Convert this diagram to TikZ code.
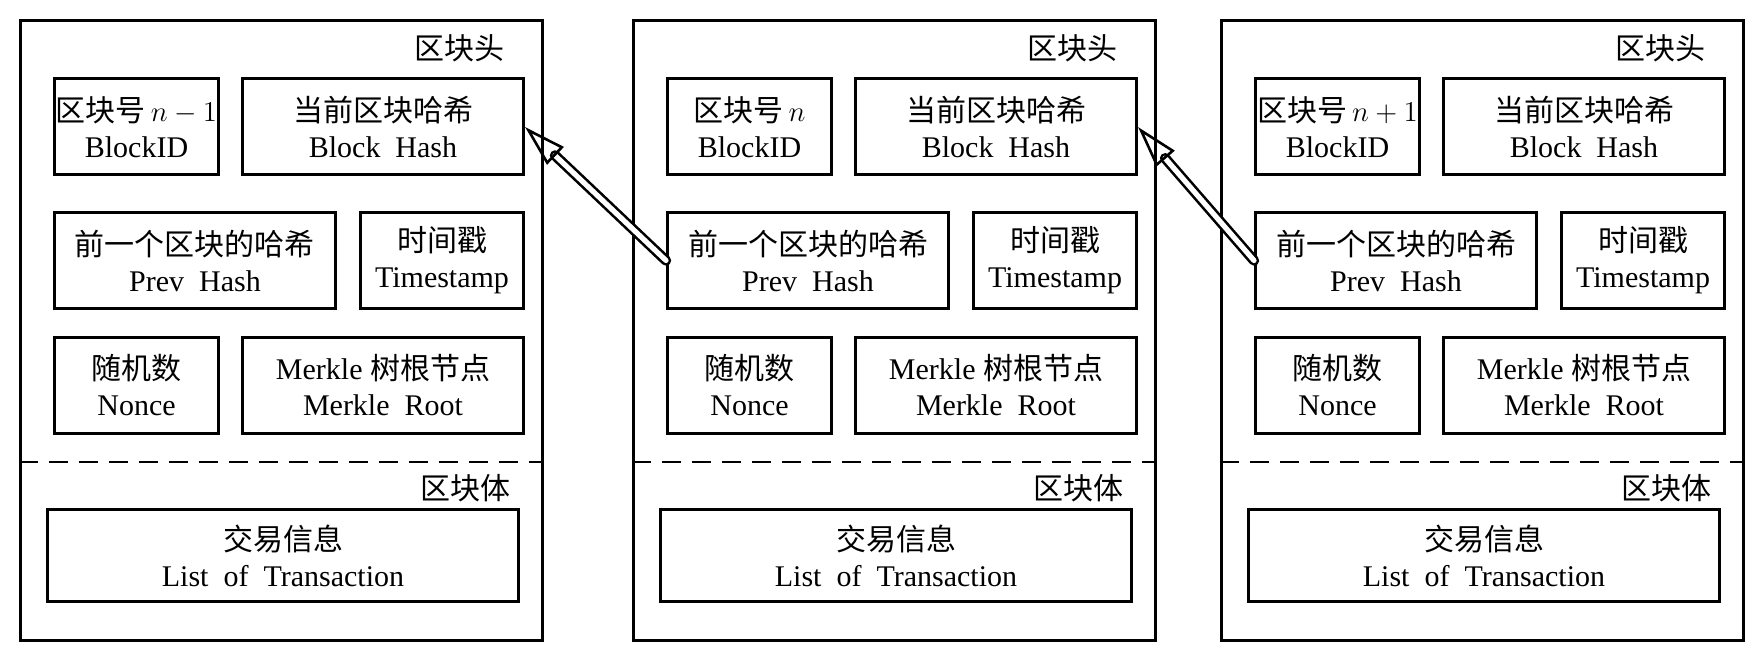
\documentclass[tikz,border=0pt]{standalone}
\usepackage{fontspec}
\setmainfont{Liberation Serif}
\newfontfamily\cjk{Noto Sans CJK SC}
\usetikzlibrary{arrows.meta}

\tikzset{
  blockbox/.style={draw, line width=1.6pt, minimum width=261pt, minimum height=310pt, inner sep=0pt},
  cell/.style={draw, line width=1.5pt, minimum height=48pt, inner sep=0pt, align=center},
  narrow/.style={cell, minimum width=82pt},
  wide/.style={cell, minimum width=140.5pt},
  txbox/.style={cell, minimum width=235.5pt, minimum height=46pt},
  tag/.style={anchor=east, inner sep=0pt},
  sep/.style={line width=1.25pt, dash pattern=on 9.5pt off 5.5pt},
  chain/.style={double, double distance=2.6pt, line width=1.3pt, line cap=round, -{Triangle[open, length=21pt, width=12pt]}}
}
\newcommand{\gap}{\hspace{0.5em}}

\begin{document}
\begin{tikzpicture}[x=0.5pt, y=-0.5pt, font=\fontsize{15pt}{18pt}\selectfont]
  \useasboundingbox (0,0) rectangle (1758,663);

  % Blocks
  \foreach \b/\bx/\num in {1/19/{n-1}, 2/632/n, 3/1220/{n+1}} {
    \node (blk\b) [blockbox] at (\bx+262.5,330.5) {};
    \node (head\b) [tag] at (\bx+486,48) {\cjk 区块头};
    \node (id\b) [narrow] at (\bx+117.5,127) {{\cjk 区块号}\,$\num$\\BlockID};
    \node (hash\b) [wide] at (\bx+364,127) {{\cjk 当前区块哈希}\\Block\gap Hash};
    \node (prev\b) [wide] at (\bx+176,260.5) {{\cjk 前一个区块的哈希}\\Prev\gap Hash};
    \node (time\b) [narrow, minimum width=81.5pt] at (\bx+423,260.5) {{\cjk 时间戳}\\Timestamp};
    \node (nonce\b) [narrow] at (\bx+117.5,385.5) {{\cjk 随机数}\\Nonce};
    \node (root\b) [wide] at (\bx+364,385.5) {Merkle {\cjk 树根节点}\\Merkle\gap Root};
    \draw[sep] (blk\b.west |- 0,462) -- (blk\b.east |- 0,462);
    \node (body\b) [tag] at (\bx+492,488) {\cjk 区块体};
    \node (tx\b) [txbox] at (\bx+264,555.5) {{\cjk 交易信息}\\List\gap of\gap Transaction};
  }

  % Edges
  \draw[chain] (prev2.west) -- (hash1.east);
  \draw[chain] (prev3.west) -- (hash2.east);
\end{tikzpicture}
\end{document}
